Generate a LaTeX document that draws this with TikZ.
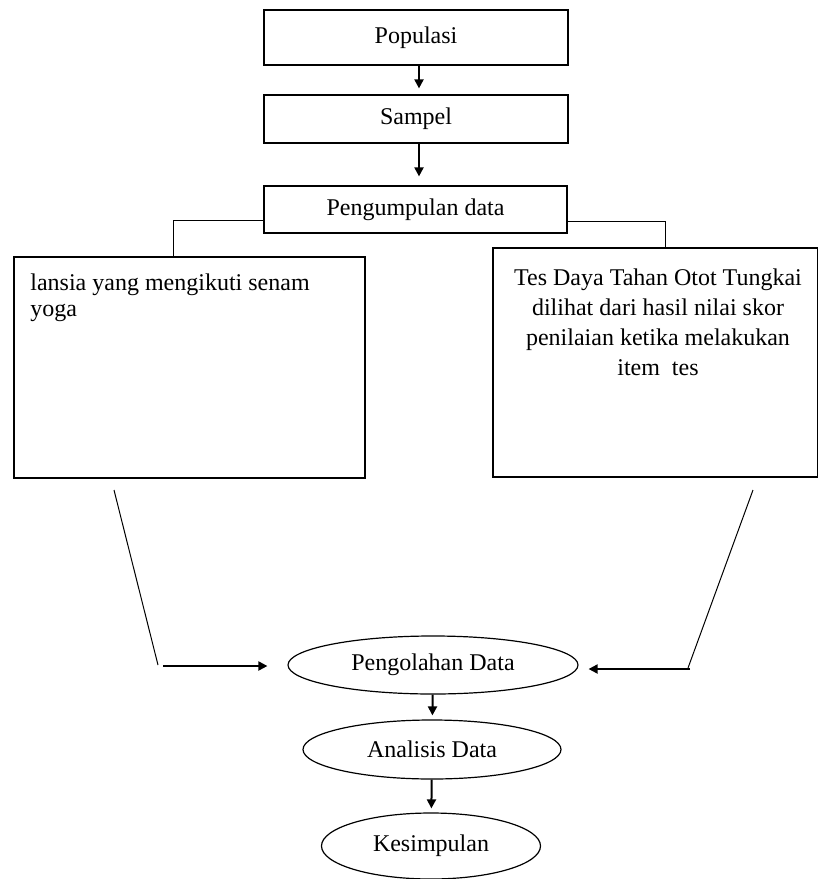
\documentclass[tikz,border=0pt]{standalone}
\usepackage{fontspec}
\setmainfont{Liberation Serif}
\usetikzlibrary{arrows.meta,shapes.geometric,positioning}

\begin{document}
\begin{tikzpicture}[x=0.5pt,y=-0.5pt,font=\fontsize{12}{15}\selectfont,
    kotak/.style={draw,line width=0.6pt,inner sep=0pt},
    elips/.style={draw,ellipse,line width=0.6pt,inner sep=0pt},
    garis/.style={line width=0.5pt},
    panah/.style={-{Triangle[length=4.5pt,width=4.5pt]},line width=1pt}]
  \useasboundingbox (0,0) rectangle (818,879);
  \node[kotak,minimum width=152pt,minimum height=27.5pt] (populasi) at (416,37.5) {Populasi};
  \node[kotak,minimum width=152pt,minimum height=24pt] (sampel) at (416,119) {Sampel};
  \node[kotak,minimum width=151.5pt,minimum height=23.5pt] (kumpul) at (415.5,209.5) {Pengumpulan data};
  \node[kotak,minimum width=175.5pt,minimum height=110.5pt] (lansia) at (189.5,367.5) {};
  \node[anchor=north west,inner sep=0pt,align=left,font=\fontsize{12}{13}\selectfont]
    (tekslansia) at (30,273) {lansia yang mengikuti senam\\yoga};
  \node[kotak,minimum width=162.5pt,minimum height=114.5pt] (tes) at (655.5,362.5) {};
  \node[anchor=north,inner sep=0pt,align=center] (tekstes) at (658,268)
    {Tes Daya Tahan Otot Tungkai\\dilihat dari hasil nilai skor\\penilaian ketika melakukan\\item\ \ tes};
  \node[elips,minimum width=145pt,minimum height=29pt] (olah) at (433,665) {Pengolahan Data};
  \node[elips,minimum width=129pt,minimum height=29.5pt] (analisis) at (432,749.5) {Analisis Data};
  \node[elips,minimum width=109.5pt,minimum height=33pt] (simpul) at (431,846) {Kesimpulan};

  \coordinate (atas) at (419,0);
  \draw[panah,shorten >=3pt] (populasi.south -| atas) -- (sampel.north -| atas);
  \draw[panah,shorten >=4.5pt] (sampel.south -| atas) -- (kumpul.north -| atas);

  \coordinate (kiri) at (173,220);
  \coordinate (kanan) at (665,221);
  \draw[garis] (kumpul.west |- kiri) -- (kiri) -- (kiri |- lansia.north);
  \draw[garis] (kumpul.east |- kanan) -- (kanan) -- (kanan |- tes.north);

  \coordinate (ki1) at (114,490);
  \coordinate (ki2) at (158,665);
  \coordinate (ki3) at (163,666);
  \draw[garis] (ki1) -- (ki2);
  \draw[panah,shorten >=10pt] (ki3) -- (olah.west |- ki3);
  \coordinate (ka1) at (753,490);
  \coordinate (ka2) at (688,668);
  \coordinate (ka3) at (690,669);
  \draw[garis] (ka1) -- (ka2);
  \draw[panah,shorten >=5pt] (ka3) -- (olah.east |- ka3);

  \draw[panah,shorten >=2pt] (olah) -- (analisis);
  \draw[panah,shorten >=2pt] (analisis) -- (simpul);
\end{tikzpicture}
\end{document}
